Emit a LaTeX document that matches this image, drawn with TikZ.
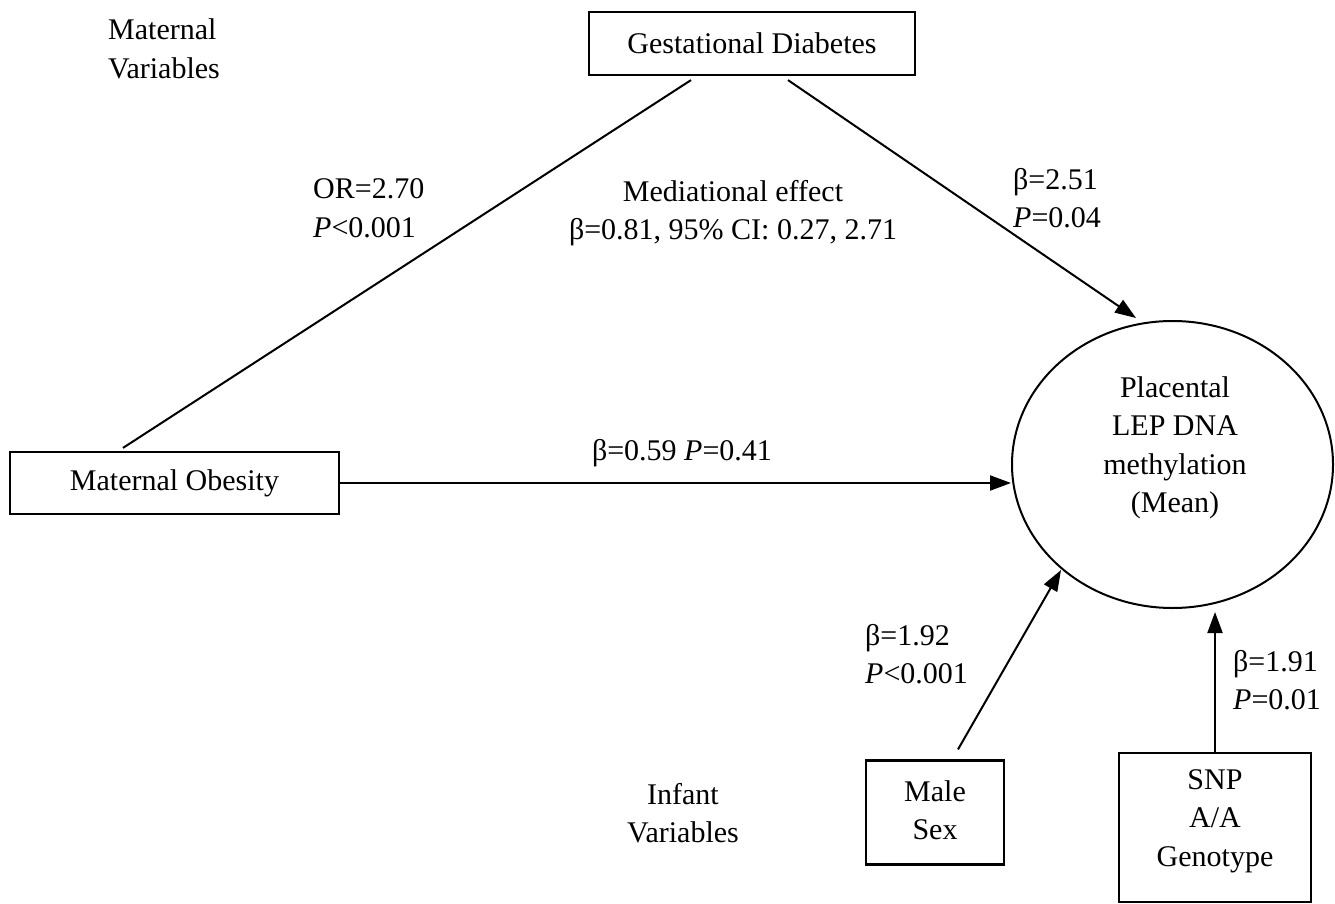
\documentclass[tikz,border=0pt]{standalone}
\usepackage{fontspec}
\setmainfont{Liberation Serif}
\usetikzlibrary{shapes.geometric,arrows.meta,calc}
\begin{document}
\begin{tikzpicture}[x=1pt,y=-1pt,
  every node/.style={font=\fontsize{30}{38.5}\selectfont, inner sep=0pt},
  box/.style={draw, line width=2.2pt, inner sep=0pt},
  lbl/.style={align=left, anchor=west},
  ctr/.style={align=center},
  conn/.style={line width=2pt},
  arr/.style={conn, -{Triangle[length=21pt,width=15pt]}}]
\useasboundingbox[fill=white] (0,0) rectangle (1335,904);
% boxes
\node[box, minimum width=326, minimum height=63] (gd) at (752,43.5) {Gestational Diabetes};
\node[box, minimum width=329, minimum height=62] (mo) at (174.5,483) {Maternal Obesity};
\node[draw, ellipse, line width=2pt, minimum width=321, minimum height=287] (pl) at (1172.5,464.5) {};
\node[ctr] (pltext) at (1175,448) {Placental\\LEP DNA\\methylation\\(Mean)};
\node[box, minimum width=138, minimum height=104] (ms) at (935,812.5) {};
\node[ctr] (mstext) at (935,810) {Male\\Sex};
\node[box, minimum width=192, minimum height=149] (snp) at (1215,827.5) {};
\node[ctr] (snptext) at (1215,821) {SNP\\A/A\\Genotype};
% connectors
\draw[conn] ($(gd.south)+(-61,4)$) -- ($(mo.north)+(-51.5,-3)$);
\draw[arr] ($(gd.south)+(36,4)$) -- ($(pl.center)+(-36.5,-146.5)$);
\draw[arr] (mo.east) -- (mo.east -| pl.west);
\draw[arr] ($(ms.north)+(23,-10)$) -- ($(pl.center)+(-111.5,105.5)$);
\draw[arr] (snp.north) -- ($(snp.north |- pl.south)+(0,3)$);
% labels
\node[lbl] (mv) at (108,49) {Maternal\\Variables};
\node[lbl] (or) at (313,208) {OR=2.70\\\textit{P}<0.001};
\node[ctr] (med) at (733,213) {Mediational effect\\β=0.81, 95\% CI: 0.27, 2.71};
\node[lbl] (b251) at (1013,198) {β=2.51\\\textit{P}=0.04};
\node (b059) at (682,453) {β=0.59 \textit{P}=0.41};
\node[lbl] (b192) at (865,654) {β=1.92\\\textit{P}<0.001};
\node[lbl] (b191) at (1233,680) {β=1.91\\\textit{P}=0.01};
\node[ctr] (iv) at (683,813) {Infant\\Variables};
\end{tikzpicture}
\end{document}
